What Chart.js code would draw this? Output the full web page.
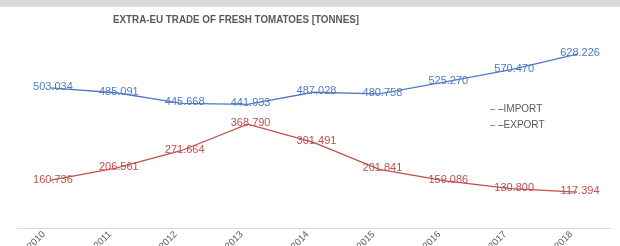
<!DOCTYPE html>
<html>
<head>
<meta charset="utf-8">
<script src="https://cdn.jsdelivr.net/npm/chart.js@4"></script>
<style>
  html, body { margin: 0; padding: 0; background: #fff; }
  #wrap { width: 620px; height: 246px; position: relative; }
</style>
</head>
<body>
<div id="wrap"><canvas id="chart" width="620" height="246"></canvas></div>
<script>
// Extra-EU trade of fresh tomatoes, tonnes (thousands shown with "." separator)
const TITLE = "EXTRA-EU TRADE OF FRESH TOMATOES [TONNES]";
const YEARS = ["2010", "2011", "2012", "2013", "2014", "2015", "2016", "2017", "2018"];
const IMPORT = [503.034, 485.091, 445.668, 441.933, 487.028, 480.758, 525.270, 570.470, 628.226];
const EXPORT = [160.736, 206.561, 271.664, 368.790, 301.491, 201.841, 159.086, 130.800, 117.394];
const SERIES_NAMES = ["–IMPORT", "–EXPORT"];

const BLUE = "#4f7bc4";
const RED = "#c0504d";
const GREY_TEXT = "#595959";

function fmt(v) {
  return v.toFixed(3);
}

// Title, top band, value labels and the floating legend are painted by hand.
const decor = {
  id: "decor",
  beforeDraw(chart) {
    const ctx = chart.ctx;
    ctx.save();
    ctx.fillStyle = "#d9d9d9";
    ctx.fillRect(0, 0, chart.width, 7);
    ctx.fillStyle = GREY_TEXT;
    ctx.font = "bold 10.5px 'Liberation Sans', Arial, sans-serif";
    ctx.textAlign = "center";
    ctx.textBaseline = "middle";
    ctx.fillText(TITLE, 236, 20, 246);
    ctx.restore();
  },
  afterDatasetsDraw(chart) {
    const ctx = chart.ctx;
    ctx.save();
    ctx.font = "11px 'Liberation Sans', Arial, sans-serif";
    ctx.textAlign = "center";
    ctx.textBaseline = "middle";
    chart.data.datasets.forEach((ds, i) => {
      const meta = chart.getDatasetMeta(i);
      ctx.fillStyle = ds.borderColor;
      meta.data.forEach((pt, j) => {
        ctx.fillText(fmt(ds.data[j]), pt.x + 3, pt.y - 1);
      });
    });

    // legend overlaid on the right of the plot
    ctx.font = "10px 'Liberation Sans', Arial, sans-serif";
    ctx.textAlign = "left";
    chart.data.datasets.forEach((ds, i) => {
      const y = 109 + i * 16;
      ctx.strokeStyle = "#8c8c8c";
      ctx.lineWidth = 1;
      ctx.beginPath();
      ctx.moveTo(490, y + 0.5);
      ctx.lineTo(495, y + 0.5);
      ctx.stroke();
      ctx.fillStyle = GREY_TEXT;
      ctx.fillText(ds.label, 498, y);
    });
    ctx.restore();
  }
};

new Chart(document.getElementById("chart"), {
  type: "line",
  data: {
    labels: YEARS,
    datasets: [
      { label: SERIES_NAMES[0], data: IMPORT, borderColor: BLUE, borderWidth: 1.3, pointRadius: 0, tension: 0 },
      { label: SERIES_NAMES[1], data: EXPORT, borderColor: RED, borderWidth: 1.3, pointRadius: 0, tension: 0 }
    ]
  },
  options: {
    responsive: false,
    animation: false,
    layout: { padding: { top: 36, left: 17, right: 10, bottom: 0 } },
    scales: {
      x: {
        offset: true,
        grid: { display: false },
        border: { color: "#d9d9d9" },
        ticks: {
          color: GREY_TEXT,
          font: { size: 9.5, family: "'Liberation Sans', Arial, sans-serif" },
          minRotation: 45,
          maxRotation: 45,
          padding: -7,
          labelOffset: -6
        },
        afterFit(scale) { scale.height = 18; }
      },
      y: { display: false, min: -15, max: 695 }
    },
    plugins: {
      legend: { display: false },
      title: { display: false },
      tooltip: { enabled: false }
    }
  },
  plugins: [decor]
});
</script>
</body>
</html>
